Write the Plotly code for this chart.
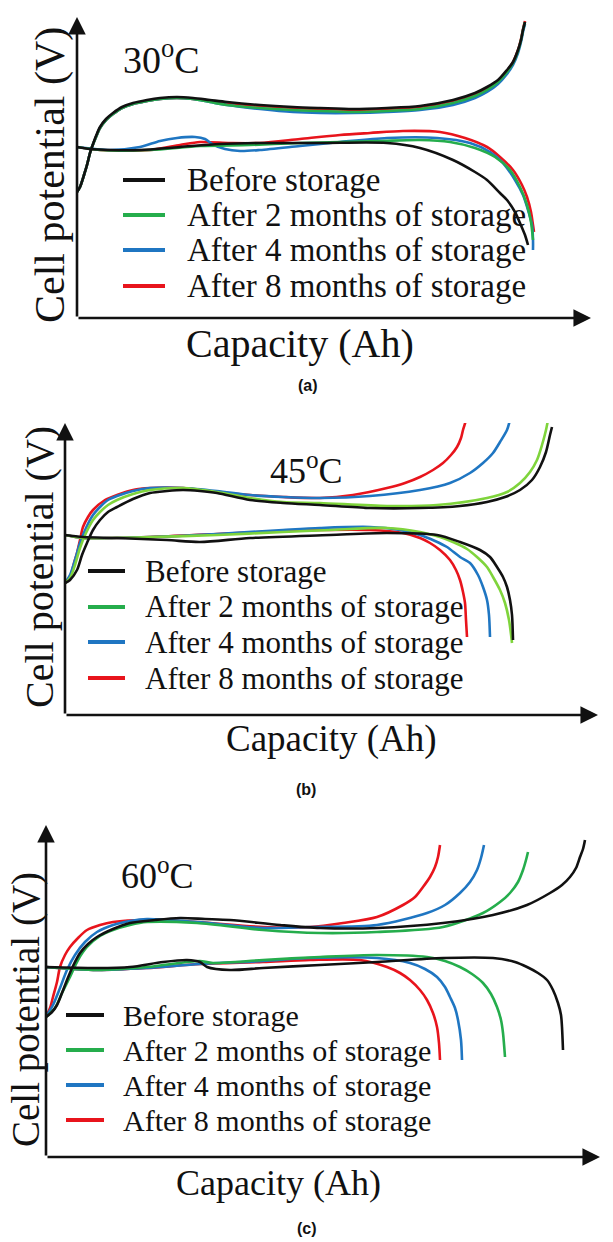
import plotly.graph_objects as go

W, H = 613, 1242

series_names = ["Before storage", "After 2 months of storage",
                "After 4 months of storage", "After 8 months of storage"]
legend_colors = ["#111111", "#25ad4c", "#1f76c2", "#e8141c"]
curve_colors_a = ["#111111", "#25ad4c", "#1f76c2", "#e8141c"]
curve_colors_b = ["#111111", "#7fd43c", "#1f76c2", "#e8141c"]
curve_colors_c = ["#111111", "#25ad4c", "#1f76c2", "#e8141c"]

# ---------------- Panel (a) 30 oC (relative capacity / relative potential units) -------------
a_q_chg = [
    [0, 3, 7, 10, 13, 15, 19, 23, 29, 36, 45, 56, 70, 83, 100, 116, 133, 150, 183, 216, 243, 276, 310, 343, 376, 398, 410, 421, 430, 436, 441, 444, 446, 448],
    [0, 3, 7, 10, 13, 15, 19, 23, 29, 36, 45, 56, 70, 83, 100, 116, 133, 150, 183, 216, 243, 276, 310, 343, 376, 398, 410, 421, 430, 436, 441, 444, 446, 448],
    [0, 3, 7, 10, 13, 15, 19, 23, 29, 36, 45, 56, 70, 83, 100, 116, 133, 150, 183, 216, 243, 276, 310, 343, 376, 398, 410, 421, 430, 436, 441, 444, 446, 448],
    [0, 3, 7, 10, 13, 15, 19, 23, 29, 36, 45, 56, 70, 83, 100, 116, 133, 150, 183, 216, 243, 276, 310, 343, 376, 398, 410, 421, 430, 436, 441, 444, 446, 448],
]
a_v_chg = [
    [126, 131, 143, 153, 165, 171, 182, 191, 199, 205, 211, 215, 218, 220, 221, 220, 218, 216, 213, 211, 210, 209, 210, 212, 218, 225, 231, 238, 248, 256, 268, 278, 288, 296],
    [126, 131, 143, 153, 165, 171, 181, 190, 198, 204, 210, 214, 217, 219, 220, 219, 216, 213, 210, 208, 207, 206, 207, 209, 215, 222, 228, 236, 246, 255, 267, 278, 288, 296],
    [126, 131, 143, 153, 165, 171, 181, 190, 198, 204, 210, 214, 217, 219, 220, 219, 216, 213, 209, 206, 205, 205, 206, 208, 213, 220, 226, 234, 244, 253, 265, 276, 286, 294],
    [126, 131, 143, 153, 165, 171, 181, 190, 198, 204, 210, 214, 217, 219, 220, 219, 217, 215, 212, 210, 209, 208, 209, 211, 217, 224, 230, 237, 247, 256, 268, 279, 289, 297],
]
a_q_dis = [
    [0, 13, 33, 63, 103, 143, 183, 243, 310, 343, 376, 398, 410, 423, 430, 438, 443, 448, 451],
    [0, 23, 73, 123, 173, 223, 263, 303, 343, 373, 398, 418, 433, 443, 450, 454, 456],
    [0, 33, 63, 83, 100, 118, 128, 135, 148, 163, 183, 223, 263, 310, 360, 393, 413, 426, 438, 446, 451, 455, 456, 456],
    [0, 23, 73, 103, 123, 153, 183, 223, 263, 293, 326, 363, 388, 410, 423, 436, 445, 450, 454, 456, 457],
]
a_v_dis = [
    [171, 169, 168, 168, 171, 174, 175, 175, 175, 170, 158, 146, 138, 125, 118, 106, 95, 83, 73],
    [171, 168, 168, 172, 173, 175, 176, 177, 178, 176, 170, 161, 148, 131, 113, 96, 78],
    [171, 168, 171, 177, 180, 181, 179, 174, 169, 167, 168, 172, 176, 180, 180, 175, 166, 155, 138, 123, 108, 93, 78, 68],
    [171, 168, 168, 173, 176, 175, 175, 179, 183, 185, 187, 186, 180, 171, 161, 148, 133, 121, 106, 93, 86],
]

# ---------------- Panel (b) 45 oC ----------------
b_q_chg = [
    [0, 5, 12, 17, 22, 28, 35, 43, 52, 68, 85, 102, 118, 135, 152, 185, 218, 255, 305, 355, 395, 422, 440, 455, 467, 475, 481, 485, 487],
    [0, 5, 10, 15, 21, 28, 35, 43, 52, 68, 85, 118, 152, 185, 218, 255, 322, 372, 422, 442, 455, 465, 472, 477, 481, 483],
    [0, 5, 10, 15, 21, 28, 35, 43, 52, 68, 85, 118, 152, 185, 218, 255, 305, 355, 385, 405, 418, 428, 435, 442, 445, 447],
    [0, 5, 9, 12, 15, 18, 23, 28, 40, 52, 68, 85, 118, 152, 185, 218, 255, 288, 322, 340, 355, 368, 378, 386, 392, 396, 398, 401, 402],
]
b_v_chg = [
    [132, 135, 145, 160, 172, 185, 195, 203, 208, 216, 222, 224, 225, 224, 222, 215, 212, 210, 207, 207, 209, 213, 218, 225, 235, 248, 263, 280, 288],
    [132, 137, 150, 167, 182, 195, 203, 210, 215, 221, 225, 227, 223, 217, 213, 212, 209, 210, 217, 223, 232, 243, 255, 270, 285, 295],
    [132, 140, 155, 172, 187, 200, 208, 215, 219, 224, 227, 227, 224, 220, 218, 217, 219, 225, 232, 242, 252, 262, 273, 285, 295, 303],
    [132, 138, 152, 162, 175, 188, 198, 205, 215, 220, 225, 227, 227, 223, 220, 218, 217, 220, 227, 232, 238, 245, 252, 260, 268, 277, 285, 295, 303],
]
b_q_dis = [
    [0, 18, 52, 102, 135, 185, 265, 322, 372, 395, 415, 425, 432, 438, 442, 445, 447, 448],
    [0, 18, 85, 152, 218, 265, 322, 355, 375, 388, 402, 412, 422, 428, 435, 440, 444, 447],
    [0, 18, 85, 152, 218, 255, 305, 335, 355, 370, 382, 395, 405, 413, 418, 422, 424, 425],
    [0, 18, 85, 152, 218, 255, 305, 338, 355, 365, 375, 385, 391, 395, 398, 400, 401, 402],
]
b_v_dis = [
    [180, 178, 177, 175, 173, 177, 180, 182, 180, 173, 165, 158, 148, 138, 128, 115, 100, 75],
    [180, 177, 178, 180, 183, 185, 187, 183, 178, 173, 166, 158, 148, 138, 125, 112, 95, 72],
    [180, 177, 178, 181, 185, 187, 188, 185, 180, 174, 168, 158, 152, 140, 128, 115, 100, 78],
    [180, 177, 178, 181, 184, 185, 185, 182, 177, 172, 165, 155, 145, 135, 123, 112, 95, 78],
]

# ---------------- Panel (c) 60 oC ----------------
c_q_chg = [
    [0, 6, 11, 16, 21, 27, 34, 42, 51, 67, 84, 109, 134, 159, 184, 234, 274, 331, 397, 447, 481, 504, 516, 524, 530, 534, 537, 539],
    [0, 9, 16, 24, 32, 41, 54, 67, 84, 101, 151, 217, 274, 331, 397, 437, 454, 464, 472, 477, 480, 482],
    [0, 7, 14, 21, 29, 39, 51, 67, 84, 101, 151, 217, 264, 331, 381, 399, 414, 424, 431, 435, 438],
    [0, 4, 7, 11, 14, 19, 24, 32, 41, 54, 67, 101, 151, 217, 264, 297, 331, 357, 369, 377, 384, 389, 392, 394],
]
c_v_chg = [
    [140, 145, 152, 164, 177, 191, 204, 213, 220, 228, 234, 237, 239, 238, 237, 232, 229, 229, 234, 242, 252, 264, 272, 280, 289, 300, 308, 317],
    [140, 149, 164, 180, 197, 210, 221, 227, 232, 235, 234, 227, 224, 225, 230, 244, 255, 264, 275, 287, 297, 305],
    [140, 152, 169, 187, 202, 215, 225, 232, 236, 238, 235, 229, 230, 232, 244, 252, 264, 275, 287, 299, 312],
    [140, 149, 160, 175, 190, 202, 210, 219, 227, 232, 235, 237, 235, 230, 230, 234, 240, 252, 260, 270, 280, 290, 300, 312],
]
c_q_dis = [
    [0, 51, 84, 117, 141, 154, 161, 184, 217, 274, 331, 397, 447, 469, 481, 492, 501, 507, 512, 515, 516, 517],
    [0, 51, 101, 141, 154, 167, 217, 274, 331, 381, 399, 414, 426, 437, 445, 451, 455, 457, 459],
    [0, 51, 101, 154, 217, 264, 331, 364, 379, 391, 399, 404, 409, 412, 415, 416],
    [0, 51, 101, 154, 217, 264, 314, 341, 354, 364, 374, 381, 387, 391, 393, 394],
]
c_v_dis = [
    [190, 189, 190, 195, 197, 195, 190, 187, 189, 192, 195, 199, 199, 195, 190, 184, 177, 167, 154, 142, 130, 107],
    [190, 187, 190, 195, 196, 194, 197, 200, 202, 200, 196, 190, 183, 174, 163, 150, 137, 124, 100],
    [190, 187, 189, 193, 196, 199, 199, 194, 188, 180, 170, 160, 149, 137, 117, 97],
    [190, 187, 189, 193, 195, 197, 197, 190, 184, 177, 167, 157, 144, 130, 114, 97],
]

temperatures = ["30", "45", "60"]
panel_labels = ["(a)", "(b)", "(c)"]
x_title = "Capacity (Ah)"
y_title = "Cell potential (V)"

# layout geometry of each panel (pixels in the 613 x 1242 page)
geom = [
    dict(x0=77, y0=318, xt=591, yt=17, temp=(121, 57, 38), xtitle=(300, 343, 40), ytitle=(51, 175, 42),
         lab=(308, 385), leg_x=(123, 165, 185), leg_y=[180, 215, 250, 286], leg_fs=33, colors=curve_colors_a),
    dict(x0=65, y0=715, xt=598, yt=423, temp=(268, 468, 36), xtitle=(331, 739, 37), ytitle=(39, 567, 40),
         lab=(306, 789), leg_x=(88, 125, 143), leg_y=[571, 607, 642, 678], leg_fs=31, colors=curve_colors_b),
    dict(x0=46, y0=1157, xt=600, yt=825, temp=(119, 873, 36), xtitle=(278, 1183, 36), ytitle=(26, 1010, 39),
         lab=(307, 1228), leg_x=(66, 104, 121), leg_y=[1015, 1050, 1085, 1120], leg_fs=30, colors=curve_colors_c),
]
data = [
    (a_q_chg, a_v_chg, a_q_dis, a_v_dis),
    (b_q_chg, b_v_chg, b_q_dis, b_v_dis),
    (c_q_chg, c_v_chg, c_q_dis, c_v_dis),
]

def px(x):
    return x / W

def py(y):
    return 1 - y / H

SERIF = "Liberation Serif, Times New Roman, serif"
SANS = "Liberation Sans, Arial, sans-serif"
AXIS_COLOR = "#111111"

fig = go.Figure()
annotations = []
shapes = []
layout_axes = {}

for p, (g, (qc, vc, qd, vd)) in enumerate(zip(geom, data)):
    s = "" if p == 0 else str(p + 1)
    xa, ya = "x" + s, "y" + s
    Lx = g["xt"] - g["x0"]
    Ly = g["y0"] - g["yt"]
    # draw the oldest-storage series first so "Before storage" sits on top
    for k in reversed(range(len(series_names))):
        name = series_names[k]
        col = g["colors"][k]
        for xs, ys in ((qc[k], vc[k]), (qd[k], vd[k])):
            fig.add_trace(go.Scatter(
                x=xs, y=ys, mode="lines", name=name, showlegend=False,
                line=dict(color=col, width=2.6, shape="spline", smoothing=0.8),
                xaxis=xa, yaxis=ya, hoverinfo="skip"))
    axis_common = dict(showgrid=False, zeroline=False, showticklabels=False,
                       showline=False, ticks="", fixedrange=True)
    layout_axes["xaxis" + s] = dict(domain=[px(g["x0"]), px(g["xt"])], range=[0, Lx],
                                    anchor=ya, **axis_common)
    layout_axes["yaxis" + s] = dict(domain=[py(g["y0"]), py(g["yt"])], range=[0, Ly],
                                    anchor=xa, **axis_common)
    # axis lines with arrow heads
    for (tx, ty) in ((Lx, 0), (0, Ly)):
        annotations.append(dict(x=tx, y=ty, ax=0, ay=0, xref=xa, yref=ya, axref=xa, ayref=ya,
                                text="", showarrow=True, arrowhead=2, arrowsize=1.35,
                                arrowwidth=2.6, arrowcolor=AXIS_COLOR, standoff=0, startstandoff=0))
    # temperature label
    tx, ty, tfs = g["temp"]
    annotations.append(dict(x=px(tx), y=py(ty), xref="paper", yref="paper", xanchor="left",
                            yanchor="middle", showarrow=False,
                            text=temperatures[p] + "<sup>o</sup>C",
                            font=dict(family=SERIF, size=tfs, color="#111111")))
    # axis titles
    cx, cy, fs = g["xtitle"]
    annotations.append(dict(x=px(cx), y=py(cy), xref="paper", yref="paper", xanchor="center",
                            yanchor="middle", showarrow=False, text=x_title,
                            font=dict(family=SERIF, size=fs, color="#111111")))
    cx, cy, fs = g["ytitle"]
    annotations.append(dict(x=px(cx), y=py(cy), xref="paper", yref="paper", xanchor="center",
                            yanchor="middle", showarrow=False, text=y_title, textangle=-90,
                            font=dict(family=SERIF, size=fs, color="#111111")))
    # panel label
    lx, ly = g["lab"]
    annotations.append(dict(x=px(lx), y=py(ly), xref="paper", yref="paper", xanchor="center",
                            yanchor="middle", showarrow=False, text="<b>" + panel_labels[p] + "</b>",
                            font=dict(family=SANS, size=16, color="#111111")))
    # legend (drawn manually to match the compact spacing)
    sx0, sx1, tx0 = g["leg_x"]
    for k, name in enumerate(series_names):
        yy = g["leg_y"][k]
        shapes.append(dict(type="line", xref="paper", yref="paper", x0=px(sx0), x1=px(sx1),
                           y0=py(yy), y1=py(yy), line=dict(color=legend_colors[k], width=4)))
        annotations.append(dict(x=px(tx0), y=py(yy), xref="paper", yref="paper", xanchor="left",
                                yanchor="middle", showarrow=False, text=name,
                                font=dict(family=SERIF, size=g["leg_fs"], color="#111111")))

fig.update_layout(
    width=W, height=H, margin=dict(l=0, r=0, t=0, b=0),
    paper_bgcolor="white", plot_bgcolor="white",
    showlegend=False, annotations=annotations, shapes=shapes, **layout_axes)

fig.write_html("out.html", include_plotlyjs=True, config={"displayModeBar": False})
